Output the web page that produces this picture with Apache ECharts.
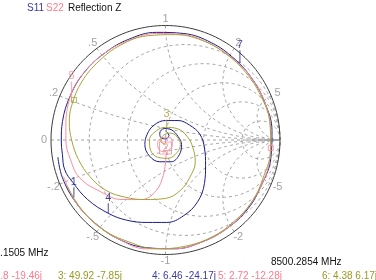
<!DOCTYPE html>
<html>
<head>
<meta charset="utf-8">
<script src="https://cdn.jsdelivr.net/npm/echarts@6/dist/echarts.min.js"></script>
<style>
html, body { margin: 0; padding: 0; background: #fff; }
#chart { width: 376px; height: 280px; }
</style>
</head>
<body>
<div id="chart"></div>
<script>
// smith chart grid values
var resistances = [0.2, 0.5, 1, 2, 5];
var reactances = [0.2, 0.5, 1, 2, 5];
var reactanceLabels = ['.2', '.5', '1', '2', '5'];

// traces, reflection coefficient [re, im]
var s11 = [
  [-0.94, -0.15], [-0.90, -0.33], [-0.78, -0.55], [-0.61, -0.73], [-0.40, -0.87], [-0.17, -0.94],
  [0.08, -0.95], [0.32, -0.89], [0.54, -0.77], [0.72, -0.60], [0.84, -0.39], [0.92, -0.16],
  [0.93, 0.08], [0.87, 0.32], [0.76, 0.53], [0.60, 0.71], [0.40, 0.85], [0.16, 0.93],
  [-0.08, 0.94], [-0.32, 0.88], [-0.53, 0.76], [-0.71, 0.59], [-0.83, 0.39], [-0.90, 0.16],
  [-0.91, 0], [-0.90, -0.13], [-0.88, -0.26], [-0.81, -0.37], [-0.68, -0.52], [-0.50, -0.64],
  [-0.34, -0.70], [-0.16, -0.72], [0.01, -0.72], [0.16, -0.66], [0.28, -0.54], [0.34, -0.38],
  [0.35, -0.22], [0.34, -0.07], [0.30, 0.05], [0.21, 0.13], [0.11, 0.17], [0.00, 0.17],
  [-0.10, 0.13], [-0.16, 0.05], [-0.18, -0.04], [-0.14, -0.14], [-0.05, -0.19], [0.05, -0.19],
  [0.12, -0.13], [0.14, -0.04], [0.11, 0.03], [0.05, 0.09], [-0.01, 0.10], [-0.05, 0.06],
  [-0.04, 0.02], [0.00, 0.01], [0.03, 0.04], [0.00, 0.08]
];
var s22 = [
  [-0.89, -0.32], [-0.78, -0.55], [-0.61, -0.73], [-0.40, -0.87], [-0.17, -0.95], [0.08, -0.95],
  [0.32, -0.89], [0.54, -0.77], [0.71, -0.60], [0.84, -0.39], [0.91, -0.16], [0.92, 0.08],
  [0.87, 0.32], [0.76, 0.53], [0.59, 0.71], [0.39, 0.84], [0.16, 0.92], [-0.08, 0.93],
  [-0.32, 0.87], [-0.53, 0.76], [-0.71, 0.59], [-0.80, 0.46], [-0.85, 0.31], [-0.87, 0.15],
  [-0.87, 0], [-0.83, -0.17], [-0.75, -0.33], [-0.57, -0.45], [-0.38, -0.52], [-0.21, -0.52],
  [-0.08, -0.44], [-0.02, -0.31], [0.00, -0.20], [0.01, -0.11], [0.06, -0.05], [0.04, 0.02],
  [-0.03, 0.02], [-0.07, -0.04], [-0.03, -0.10], [0.01, -0.09]
];
var memTrace = [
  [-0.86, -0.40], [-0.73, -0.61], [-0.55, -0.78], [-0.32, -0.89], [-0.08, -0.95], [0.16, -0.93],
  [0.40, -0.85], [0.60, -0.71], [0.76, -0.53], [0.86, -0.31], [0.92, -0.08], [0.91, 0.16],
  [0.83, 0.39], [0.70, 0.59], [0.53, 0.75], [0.32, 0.87], [0.08, 0.92], [-0.16, 0.91],
  [-0.39, 0.83], [-0.58, 0.69], [-0.73, 0.51], [-0.82, 0.30], [-0.84, 0.15], [-0.82, 0],
  [-0.76, -0.17], [-0.66, -0.32], [-0.52, -0.44], [-0.35, -0.50], [-0.18, -0.52], [0.00, -0.51],
  [0.13, -0.44], [0.21, -0.33], [0.26, -0.19], [0.24, -0.07], [0.19, 0.03], [0.10, 0.10],
  [0.00, 0.11], [-0.08, 0.08], [-0.14, 0.00], [-0.13, -0.09], [-0.07, -0.15], [0.02, -0.16],
  [0.10, -0.11], [0.13, -0.04], [0.10, 0.03], [0.04, 0.06], [-0.02, 0.04], [-0.04, -0.01],
  [0.00, -0.04]
];

// markers
var markerNames = ['1', '2', '3', '4', '5', '6', '7'];
var markerPoints = [[-0.80, -0.50], [0.00, -0.07], [0.01, 0.10], [-0.50, -0.64], [-0.82, 0.37], [-0.80, 0.35], [0.65, 0.67]];
var markerTrace = [0, 1, 2, 0, 1, 2, 0];
var markerBox = [false, true, false, false, false, true, false];
var markerTick = [10, 0, 9, 10, 16, 0, 13];
var refPoints = [[0.92, -0.07]];

var readouts = ['2: 11.8 -19.46j', '3: 49.92 -7.85j', '4: 6.46 -24.17j', '5: 2.72 -12.28j', '6: 4.38 6.17j'];
var startFreq = '10.1505 MHz';
var stopFreq = '8500.2854 MHz';

var colors = ['#1c1c8c', '#ff8a9a', '#a3a33a'];
var textColors = ['#3a3aa8', '#ff7a8c', '#999922'];
var gridGray = '#a4a4a4';
var font = 'Liberation Sans, Arial, sans-serif';

function gamma (r, x) {
  var d = (r + 1) * (r + 1) + x * x;
  return [(r * r + x * x - 1) / d, 2 * x / d];
}

function circlePts (cx, cy, rad) {
  var pts = [];
  for (var i = 0; i <= 180; i++) {
    var t = i / 180 * Math.PI * 2;
    pts.push([cx + rad * Math.cos(t), cy + rad * Math.sin(t)]);
  }
  return pts;
}

function arcPts (x) {
  var pts = [];
  for (var i = 0; i <= 200; i++) {
    var t = Math.tan(i / 200 * Math.PI / 2 * 0.999);
    pts.push(gamma(t, x));
  }
  return pts;
}

var gridLine = function (data, solid) {
  return {
    type: 'line',
    data: data,
    showSymbol: false,
    silent: true,
    z: 1,
    lineStyle: solid ? { color: '#3c3c3c', width: 1 } : { color: gridGray, width: 1, type: [3, 3] }
  };
};

var series = [];
resistances.forEach(function (r) {
  series.push(gridLine(circlePts(r / (1 + r), 0, 1 / (1 + r))));
});
reactances.forEach(function (x) {
  series.push(gridLine(arcPts(x)));
  series.push(gridLine(arcPts(-x)));
});
series.push(gridLine([[-1, 0], [1, 0]]));
series.push(gridLine(circlePts(0, 0, 1), true));

// outer scale labels
var labelData = [{ value: [-1.06, 0], name: '0' }];
reactances.forEach(function (x, i) {
  var p = gamma(0, x);
  labelData.push({ value: [p[0] * 1.06, p[1] * 1.06], name: reactanceLabels[i] });
  var q = gamma(0, -x);
  labelData.push({ value: [q[0] * 1.06, q[1] * 1.06], name: '-' + reactanceLabels[i] });
});
series.push({
  type: 'scatter',
  data: labelData,
  symbolSize: 1,
  silent: true,
  clip: false,
  itemStyle: { color: 'rgba(0,0,0,0)' },
  label: {
    show: true,
    position: 'inside',
    formatter: function (p) { return p.name; },
    color: '#8c8c8c',
    fontSize: 11,
    fontFamily: font
  }
});

[s11, s22, memTrace].forEach(function (d, i) {
  series.push({
    type: 'line',
    data: d,
    smooth: 0.4,
    showSymbol: false,
    silent: true,
    z: 3,
    lineStyle: { color: colors[i], width: 1 }
  });
});

// marker ticks and boxes
var tickData = [];
var boxData = [];
markerPoints.forEach(function (p, i) {
  var c = colors[markerTrace[i]];
  if (markerBox[i]) {
    boxData.push({
      value: p,
      name: markerNames[i],
      symbolSize: markerNames[i] === '2' ? 12 : 5,
      itemStyle: { color: 'rgba(0,0,0,0)', borderColor: c, borderWidth: 1 },
      label: { show: markerNames[i] === '2', color: c }
    });
  } else {
    tickData.push({
      value: p,
      name: markerNames[i],
      symbolSize: [1, markerTick[i]],
      symbolOffset: [0, -markerTick[i] / 2],
      itemStyle: { color: c },
      label: { color: c }
    });
  }
});
series.push({
  type: 'scatter',
  data: tickData,
  symbol: 'rect',
  silent: true,
  z: 5,
  label: {
    show: true,
    position: 'top',
    distance: 0,
    formatter: function (p) { return p.name; },
    fontSize: 11,
    fontFamily: font
  }
});
series.push({
  type: 'scatter',
  data: boxData,
  symbol: 'rect',
  silent: true,
  z: 5,
  label: {
    position: 'inside',
    formatter: function (p) { return p.name; },
    fontSize: 11,
    fontFamily: font
  }
});
series.push({
  type: 'scatter',
  data: refPoints,
  symbol: 'rect',
  symbolSize: 5,
  silent: true,
  z: 5,
  itemStyle: { color: 'rgba(0,0,0,0)', borderColor: colors[1], borderWidth: 1 }
});

var texts = [
  { type: 'text', x: 27, y: 8, style: { text: 'S11', fill: textColors[0] } },
  { type: 'text', x: 46, y: 8, style: { text: 'S22', fill: textColors[1] } },
  { type: 'text', x: 68, y: 8, style: { text: 'Reflection Z', fill: '#111' } },
  { type: 'text', x: -11, y: 253, style: { text: startFreq, fill: '#111' } },
  { type: 'text', x: 271, y: 262, style: { text: stopFreq, fill: '#111' } },
  { type: 'text', x: 42, y: 276, style: { text: readouts[0], fill: textColors[1], align: 'right' } },
  { type: 'text', x: 58, y: 276, style: { text: readouts[1], fill: textColors[2] } },
  { type: 'text', x: 152, y: 276, style: { text: readouts[2], fill: textColors[0] } },
  { type: 'text', x: 218, y: 276, style: { text: readouts[3], fill: textColors[1] } },
  { type: 'text', x: 322, y: 276, style: { text: readouts[4], fill: textColors[2] } }
];
texts.forEach(function (t) {
  t.style.font = '10px ' + font;
  t.style.verticalAlign = 'middle';
  if (!t.style.align) t.style.align = 'left';
});

var chart = echarts.init(document.getElementById('chart'));
chart.setOption({
  animation: false,
  grid: { left: 28.1, right: 73.1, top: 2.6, bottom: 2.6 },
  xAxis: { type: 'value', min: -1.2, max: 1.2, show: false },
  yAxis: { type: 'value', min: -1.2, max: 1.2, show: false },
  graphic: texts,
  series: series
});
</script>
</body>
</html>
